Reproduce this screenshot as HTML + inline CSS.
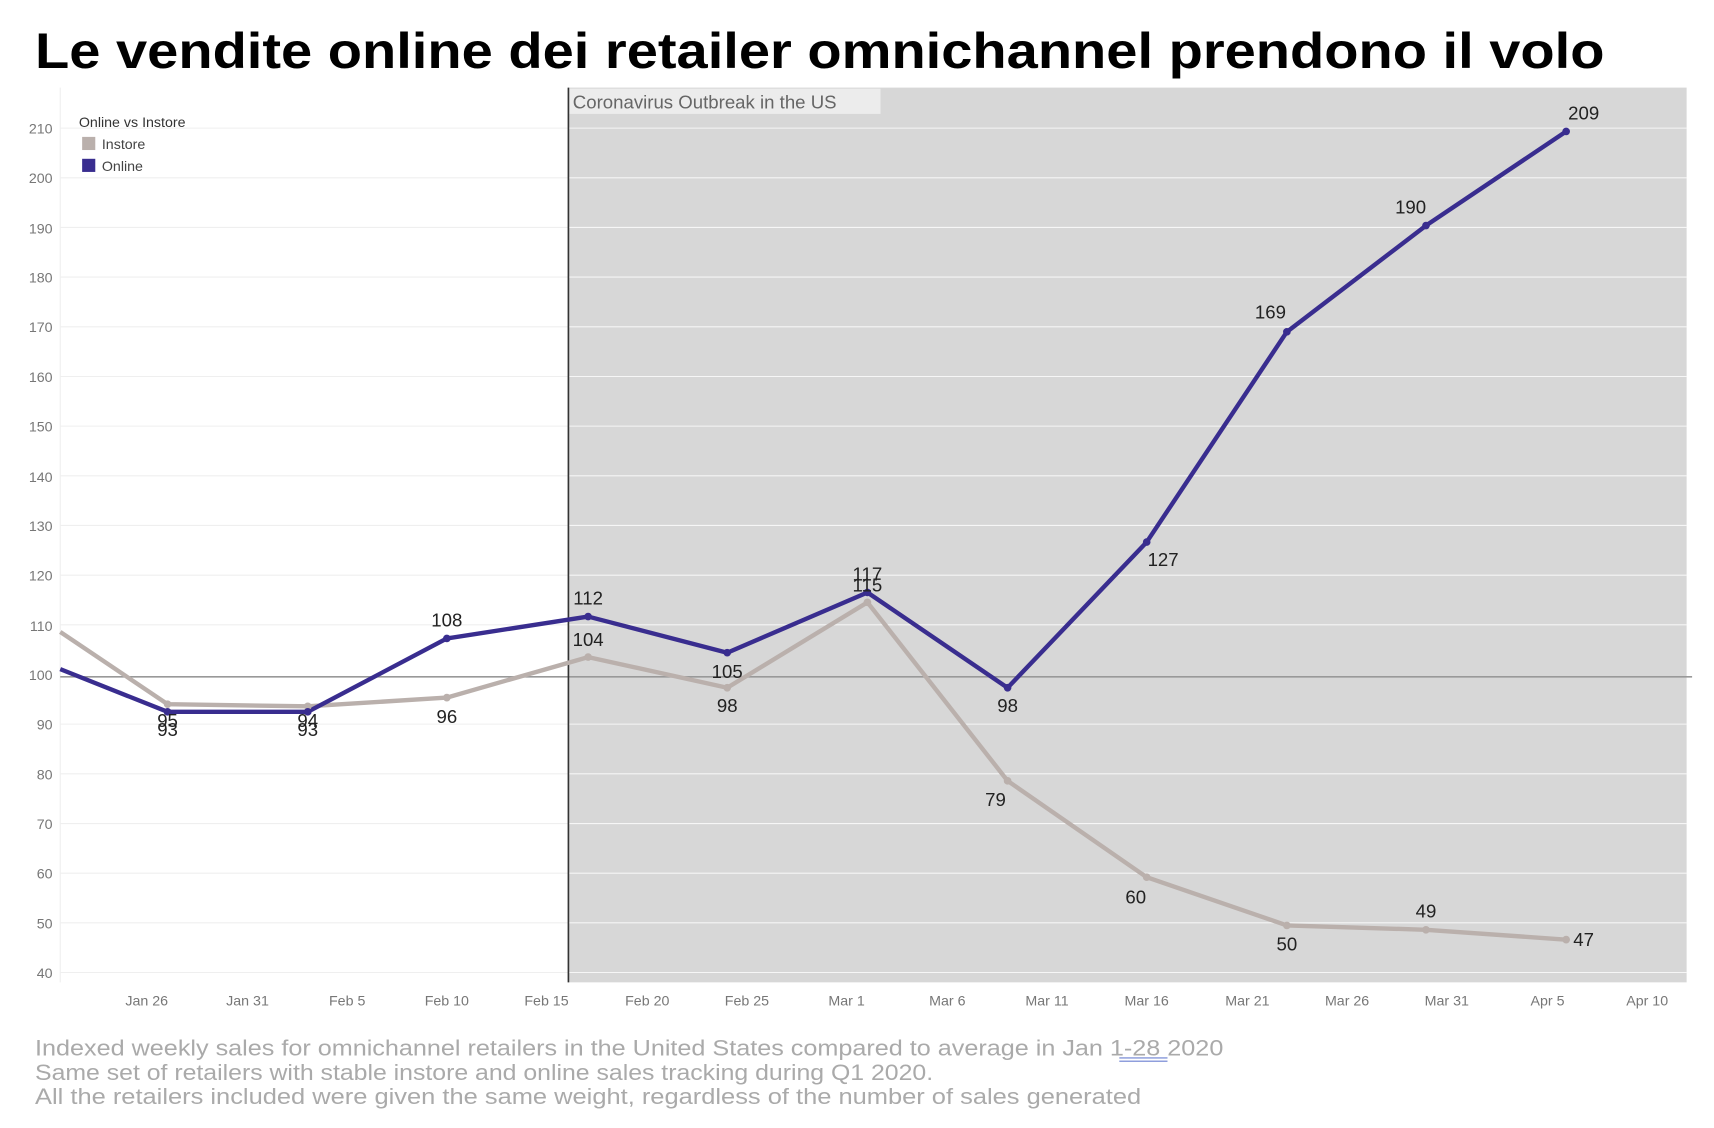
<!DOCTYPE html>
<html><head><meta charset="utf-8"><style>
html,body{margin:0;padding:0;background:#fff;width:1714px;height:1128px;overflow:hidden}
svg{display:block}
text{font-family:"Liberation Sans",sans-serif}
</style></head><body>
<svg width="1714" height="1128" viewBox="0 0 1565 1030" preserveAspectRatio="none">
<rect width="1565" height="1030" fill="#fff"/>
<text x="32" y="62" font-size="46" font-weight="bold" fill="#000" textLength="1433" lengthAdjust="spacingAndGlyphs">Le vendite online dei retailer omnichannel prendono il volo</text>
<rect x="519" y="80" width="1021" height="817" fill="#d7d7d7"/>
<g stroke-width="1">
<g stroke="#efefef">
<line x1="55" x2="519" y1="117" y2="117"/><line x1="55" x2="519" y1="162.4" y2="162.4"/><line x1="55" x2="519" y1="207.7" y2="207.7"/><line x1="55" x2="519" y1="253" y2="253"/><line x1="55" x2="519" y1="298.4" y2="298.4"/><line x1="55" x2="519" y1="343.8" y2="343.8"/><line x1="55" x2="519" y1="389.1" y2="389.1"/><line x1="55" x2="519" y1="434.5" y2="434.5"/><line x1="55" x2="519" y1="479.8" y2="479.8"/><line x1="55" x2="519" y1="525.2" y2="525.2"/><line x1="55" x2="519" y1="570.5" y2="570.5"/><line x1="55" x2="519" y1="661.2" y2="661.2"/><line x1="55" x2="519" y1="706.6" y2="706.6"/><line x1="55" x2="519" y1="752" y2="752"/><line x1="55" x2="519" y1="797.3" y2="797.3"/><line x1="55" x2="519" y1="842.6" y2="842.6"/><line x1="55" x2="519" y1="888" y2="888"/>
<line x1="55" x2="55" y1="80" y2="897"/>
</g>
<g stroke="#f6f6f6">
<line x1="519" x2="1540" y1="117" y2="117"/><line x1="519" x2="1540" y1="162.4" y2="162.4"/><line x1="519" x2="1540" y1="207.7" y2="207.7"/><line x1="519" x2="1540" y1="253" y2="253"/><line x1="519" x2="1540" y1="298.4" y2="298.4"/><line x1="519" x2="1540" y1="343.8" y2="343.8"/><line x1="519" x2="1540" y1="389.1" y2="389.1"/><line x1="519" x2="1540" y1="434.5" y2="434.5"/><line x1="519" x2="1540" y1="479.8" y2="479.8"/><line x1="519" x2="1540" y1="525.2" y2="525.2"/><line x1="519" x2="1540" y1="570.5" y2="570.5"/><line x1="519" x2="1540" y1="661.2" y2="661.2"/><line x1="519" x2="1540" y1="706.6" y2="706.6"/><line x1="519" x2="1540" y1="752" y2="752"/><line x1="519" x2="1540" y1="797.3" y2="797.3"/><line x1="519" x2="1540" y1="842.6" y2="842.6"/><line x1="519" x2="1540" y1="888" y2="888"/>
</g>
</g>
<line x1="55" x2="1545" y1="618" y2="618" stroke="#999" stroke-width="1.5"/>
<line x1="519" x2="519" y1="80" y2="897" stroke="#333" stroke-width="1.5"/>
<rect x="520" y="81" width="284" height="23" fill="#ececec"/>
<text x="523" y="99" font-size="17" fill="#666">Coronavirus Outbreak in the US</text>
<g font-size="13" fill="#777" text-anchor="end">
<text x="48" y="122">210</text><text x="48" y="167">200</text><text x="48" y="213">190</text><text x="48" y="258">180</text><text x="48" y="303">170</text><text x="48" y="349">160</text><text x="48" y="394">150</text><text x="48" y="440">140</text><text x="48" y="485">130</text><text x="48" y="530">120</text><text x="48" y="576">110</text><text x="48" y="621">100</text><text x="48" y="666">90</text><text x="48" y="712">80</text><text x="48" y="757">70</text><text x="48" y="802">60</text><text x="48" y="848">50</text><text x="48" y="893">40</text>
</g>
<g font-size="13" fill="#777" text-anchor="middle">
<text x="134" y="918">Jan 26</text><text x="226" y="918">Jan 31</text><text x="317" y="918">Feb 5</text><text x="408" y="918">Feb 10</text><text x="499" y="918">Feb 15</text><text x="591" y="918">Feb 20</text><text x="682" y="918">Feb 25</text><text x="773" y="918">Mar 1</text><text x="865" y="918">Mar 6</text><text x="956" y="918">Mar 11</text><text x="1047" y="918">Mar 16</text><text x="1139" y="918">Mar 21</text><text x="1230" y="918">Mar 26</text><text x="1321" y="918">Mar 31</text><text x="1413" y="918">Apr 5</text><text x="1504" y="918">Apr 10</text>
</g>
<text x="72" y="116" font-size="13" fill="#333">Online vs Instore</text>
<rect x="75" y="125" width="12" height="12" fill="#bab0ac"/>
<text x="93" y="136" font-size="13" fill="#444">Instore</text>
<rect x="75" y="145" width="12" height="12" fill="#392d8f"/>
<text x="93" y="156" font-size="13" fill="#444">Online</text>
<polyline fill="none" stroke="#bab0ac" stroke-width="4" stroke-linejoin="round" points="55,577 153,643 281,645 408,637 537,600 664,628 792,550 920,713 1047,801 1175,845 1302,849 1430,858"/>
<polyline fill="none" stroke="#392d8f" stroke-width="4" stroke-linejoin="round" points="55,611 153,650 281,650 408,583 537,563 664,596 792,541 920,628 1047,495 1175,303 1302,206 1430,120"/>
<g fill="#bab0ac"><circle cx="153" cy="643" r="3.5"/><circle cx="281" cy="645" r="3.5"/><circle cx="408" cy="637" r="3.5"/><circle cx="537" cy="600" r="3.5"/><circle cx="664" cy="628" r="3.5"/><circle cx="792" cy="550" r="3.5"/><circle cx="920" cy="713" r="3.5"/><circle cx="1047" cy="801" r="3.5"/><circle cx="1175" cy="845" r="3.5"/><circle cx="1302" cy="849" r="3.5"/><circle cx="1430" cy="858" r="3.5"/></g>
<g fill="#392d8f"><circle cx="153" cy="650" r="3.5"/><circle cx="281" cy="650" r="3.5"/><circle cx="408" cy="583" r="3.5"/><circle cx="537" cy="563" r="3.5"/><circle cx="664" cy="596" r="3.5"/><circle cx="792" cy="541" r="3.5"/><circle cx="920" cy="628" r="3.5"/><circle cx="1047" cy="495" r="3.5"/><circle cx="1175" cy="303" r="3.5"/><circle cx="1302" cy="206" r="3.5"/><circle cx="1430" cy="120" r="3.5"/></g>
<g font-size="17" fill="#222" text-anchor="middle">
<text x="153" y="664">95</text><text x="153" y="672">93</text>
<text x="281" y="664">94</text><text x="281" y="672">93</text>
<text x="408" y="660">96</text><text x="408" y="572">108</text>
<text x="537" y="552">112</text><text x="537" y="590">104</text>
<text x="664" y="619">105</text><text x="664" y="650">98</text>
<text x="792" y="530">117</text><text x="792" y="540">115</text>
<text x="920" y="650">98</text><text x="909" y="736">79</text>
<text x="1062" y="517">127</text><text x="1037" y="825">60</text>
<text x="1160" y="291">169</text><text x="1175" y="868">50</text>
<text x="1288" y="195">190</text><text x="1302" y="838">49</text>
<text x="1446" y="109">209</text><text x="1446" y="864">47</text>
</g>
<g font-size="20" fill="#aaa">
<text x="32" y="964" textLength="1085" lengthAdjust="spacingAndGlyphs">Indexed weekly sales for omnichannel retailers in the United States compared to average in Jan 1-28 2020</text>
<text x="32" y="986" textLength="820" lengthAdjust="spacingAndGlyphs">Same set of retailers with stable instore and online sales tracking during Q1 2020.</text>
<text x="32" y="1008" textLength="1010" lengthAdjust="spacingAndGlyphs">All the retailers included were given the same weight, regardless of the number of sales generated</text>
</g>
<line x1="1022" x2="1066" y1="966" y2="966" stroke="#6a7fd0" stroke-width="1"/>
<line x1="1022" x2="1066" y1="969" y2="969" stroke="#6a7fd0" stroke-width="1"/>
</svg>
</body></html>
